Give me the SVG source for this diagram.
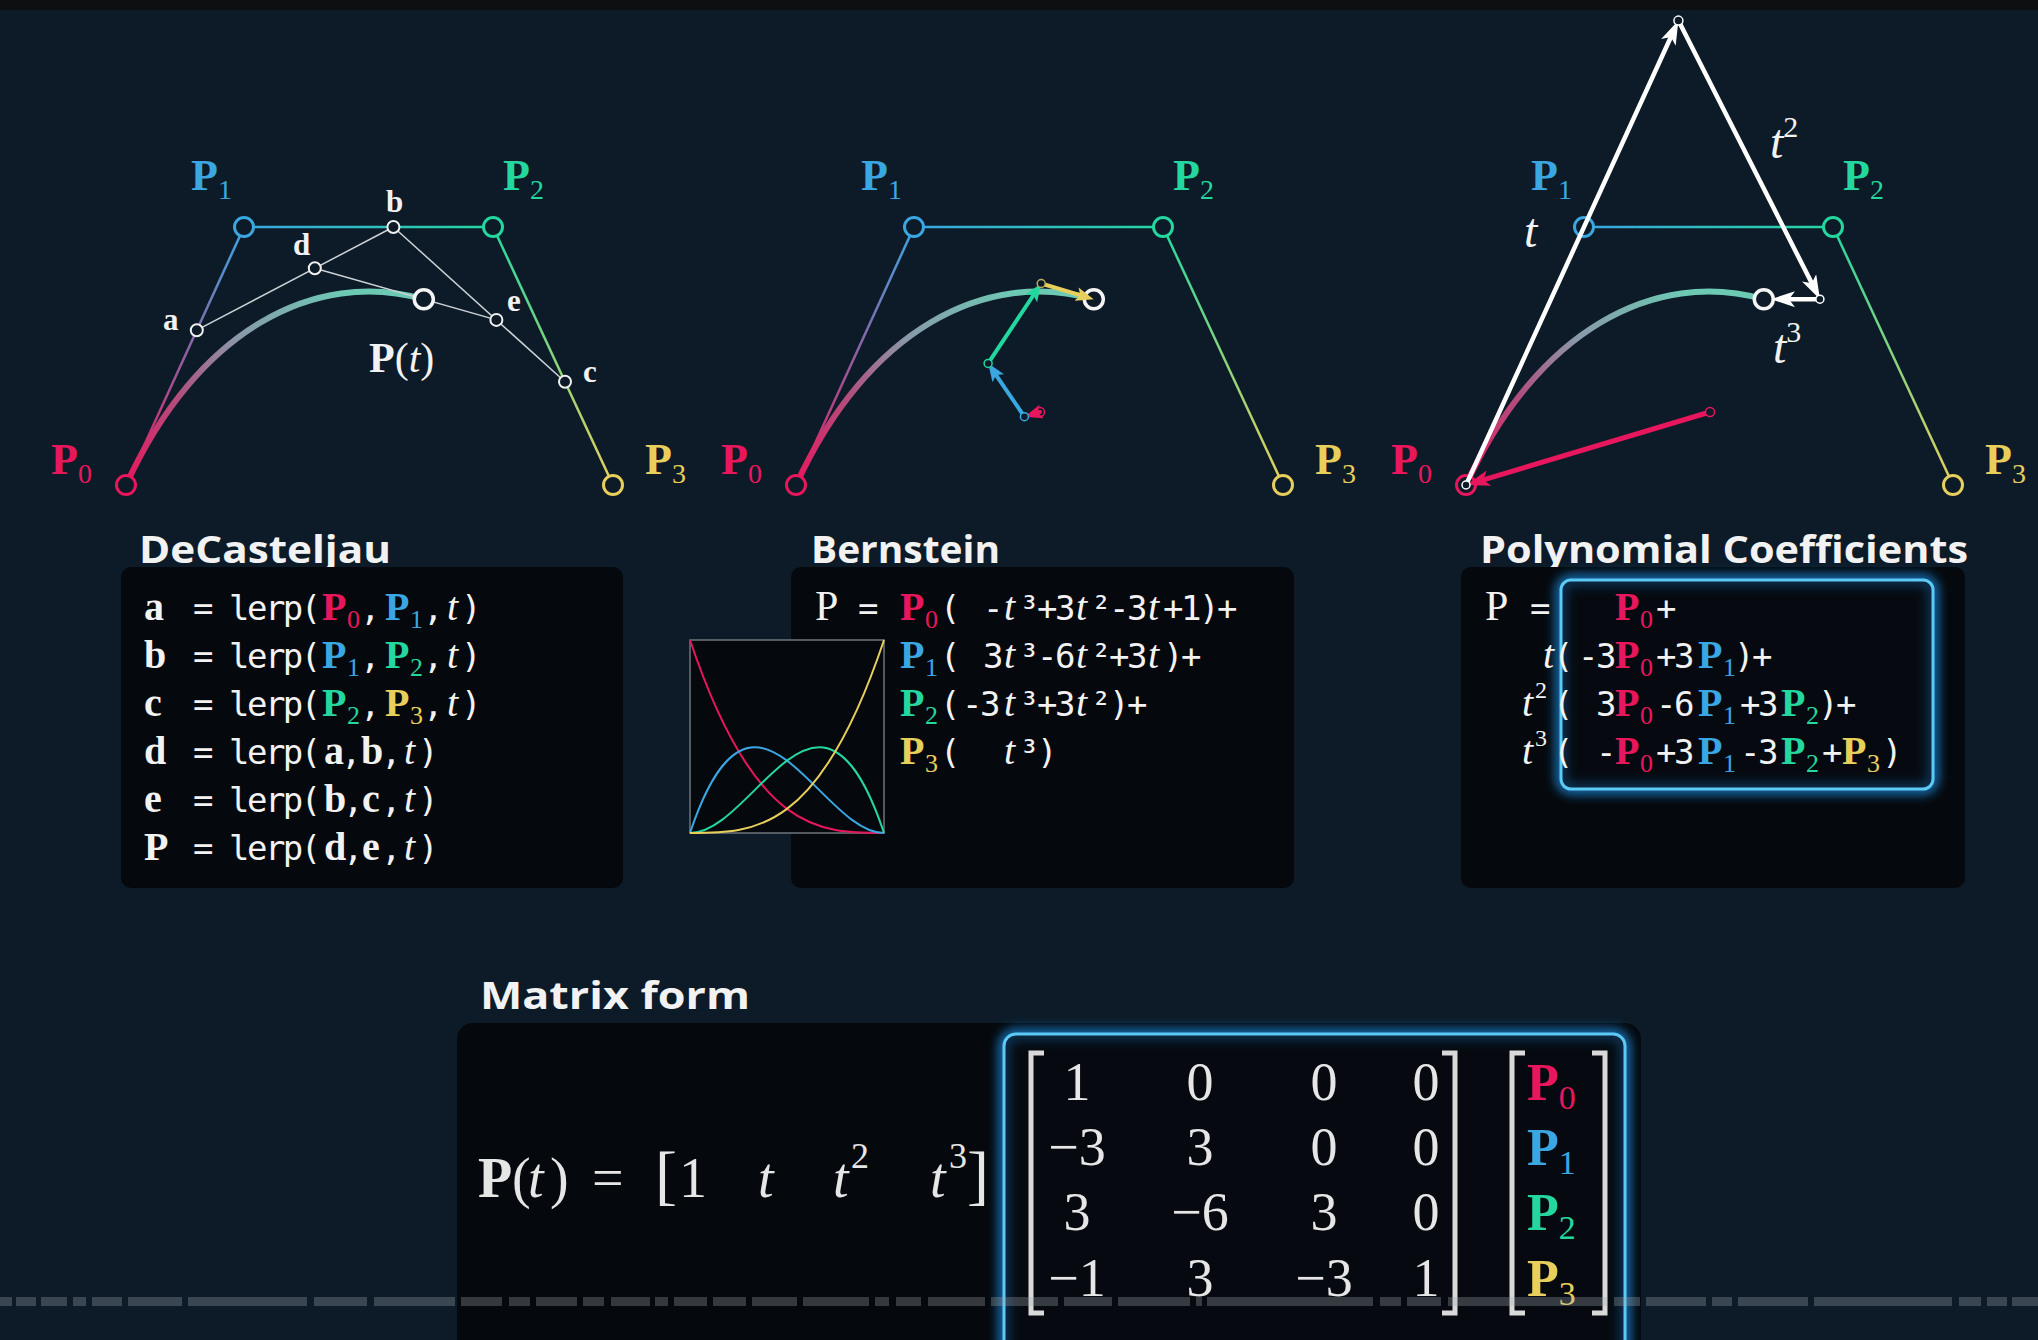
<svg xmlns="http://www.w3.org/2000/svg" width="2038" height="1340" viewBox="0 0 2038 1340">
<defs>
<style>
.title{font-family:"Open Sans","Lato",sans-serif;font-weight:700;font-size:37px;fill:#f2f2f2}
.bs{font-family:"Liberation Serif",serif;font-weight:700}
.rs{font-family:"Liberation Serif",serif;font-weight:400;font-style:normal}
.it{font-family:"Liberation Serif",serif;font-weight:400;font-style:italic}
.mono{font-family:"DejaVu Sans Mono",monospace;font-size:34px;letter-spacing:-2.5px;font-weight:400;font-style:normal}
.red{fill:#e8175d}.blue{fill:#3aa6e2}.green{fill:#24d79f}.yellow{fill:#e8cf5c}.wt{fill:#f2f2f2}
.pt{stroke-width:3;fill:#0c1b27}
.dot{fill:#0c1b27;stroke:#f0f0f0;stroke-width:2}
.cons{stroke:#cdd2d6;stroke-width:1.5;fill:none}
.curve{fill:none;stroke:url(#gc);stroke-width:6;stroke-linecap:round}
.lbl{font-size:44px}
.sub{font-size:28px}
.frm{font-size:40px}
.fsub{font-size:26px}
.glowc{fill:none;stroke:#1d8fe6;stroke-width:9;filter:url(#blur)}
.glow{fill:none;stroke:#5ccaf6;stroke-width:3}
.bar{fill:#a4abb2;opacity:0.3}
.brk{fill:none;stroke:#d9d9d9;stroke-width:5}
.mx{font-family:"Liberation Serif",serif;font-size:54px;fill:#e6e6e6;text-anchor:middle}
</style>
<linearGradient id="gc" gradientUnits="userSpaceOnUse" x1="126" y1="485" x2="330" y2="275">
<stop offset="0" stop-color="#e8175d"/><stop offset="0.35" stop-color="#b0507e"/><stop offset="0.62" stop-color="#8a98aa"/><stop offset="1" stop-color="#6ccab4"/>
</linearGradient>
<linearGradient id="g01" gradientUnits="userSpaceOnUse" x1="126" y1="485" x2="244" y2="227"><stop offset="0" stop-color="#e8175d"/><stop offset="1" stop-color="#3aa6e2"/></linearGradient>
<linearGradient id="g12" gradientUnits="userSpaceOnUse" x1="244" y1="227" x2="493" y2="227"><stop offset="0" stop-color="#3aa6e2"/><stop offset="1" stop-color="#24d79f"/></linearGradient>
<linearGradient id="g23" gradientUnits="userSpaceOnUse" x1="493" y1="227" x2="613" y2="485"><stop offset="0" stop-color="#24d79f"/><stop offset="1" stop-color="#e8cf5c"/></linearGradient>
<filter id="blur" x="-10%" y="-10%" width="120%" height="120%"><feGaussianBlur stdDeviation="6"/></filter>
<marker id="ahW" viewBox="0 0 24 16" refX="12" refY="8" markerWidth="24" markerHeight="16" markerUnits="userSpaceOnUse" orient="auto"><path d="M0,0 L24,8 L0,16 L6,8 z" fill="#ffffff"/></marker>
<marker id="ahR2" viewBox="0 0 24 16" refX="12" refY="8" markerWidth="24" markerHeight="16" markerUnits="userSpaceOnUse" orient="auto"><path d="M0,0 L24,8 L0,16 L6,8 z" fill="#e8175d"/></marker>
<marker id="ahR" viewBox="0 0 18 14" refX="9" refY="7" markerWidth="18" markerHeight="14" markerUnits="userSpaceOnUse" orient="auto"><path d="M0,0 L18,7 L0,14 L4,7 z" fill="#e8175d"/></marker>
<marker id="ahB" viewBox="0 0 18 14" refX="9" refY="7" markerWidth="18" markerHeight="14" markerUnits="userSpaceOnUse" orient="auto"><path d="M0,0 L18,7 L0,14 L4,7 z" fill="#3aa6e2"/></marker>
<marker id="ahG" viewBox="0 0 18 14" refX="9" refY="7" markerWidth="18" markerHeight="14" markerUnits="userSpaceOnUse" orient="auto"><path d="M0,0 L18,7 L0,14 L4,7 z" fill="#24d79f"/></marker>
<marker id="ahY" viewBox="0 0 18 14" refX="9" refY="7" markerWidth="18" markerHeight="14" markerUnits="userSpaceOnUse" orient="auto"><path d="M0,0 L18,7 L0,14 L4,7 z" fill="#e8cf5c"/></marker>
</defs>

<rect x="0" y="0" width="2038" height="1340" fill="#0c1b27"/>
<rect x="0" y="0" width="2038" height="10" fill="#0e0f10"/>

<!-- Left panel: De Casteljau geometry -->
<g id="panel-decasteljau">
<line x1="126" y1="485" x2="244" y2="227" stroke="url(#g01)" stroke-width="2.5"/>
<line x1="244" y1="227" x2="493" y2="227" stroke="url(#g12)" stroke-width="2.5"/>
<line x1="493" y1="227" x2="613" y2="485" stroke="url(#g23)" stroke-width="2.5"/>
<path class="curve" d="M126,485 C196.8,330.2 314.8,268.3 423.8,299.3"/>
<line class="cons" x1="196.8" y1="330.2" x2="393.4" y2="227"/>
<line class="cons" x1="393.4" y1="227" x2="565" y2="381.8"/>
<line class="cons" x1="314.8" y1="268.3" x2="496.4" y2="319.9"/>
<circle class="pt" cx="126" cy="485" r="9.5" stroke="#e8175d"/>
<circle class="pt" cx="244" cy="227" r="9.5" stroke="#3aa6e2"/>
<circle class="pt" cx="493" cy="227" r="9.5" stroke="#24d79f"/>
<circle class="pt" cx="613" cy="485" r="9.5" stroke="#e8cf5c"/>
<circle class="dot" cx="196.8" cy="330.2" r="6"/>
<circle class="dot" cx="393.4" cy="227" r="6"/>
<circle class="dot" cx="565" cy="381.8" r="6"/>
<circle class="dot" cx="314.8" cy="268.3" r="6"/>
<circle class="dot" cx="496.4" cy="319.9" r="6"/>
<circle cx="423.8" cy="299.3" r="9.5" fill="#0c1b27" stroke="#f4f4f4" stroke-width="3.5"/>
<text class="bs red lbl" x="51" y="474">P<tspan class="rs sub" dy="9">0</tspan></text>
<text class="bs blue lbl" x="191" y="190">P<tspan class="rs sub" dy="9">1</tspan></text>
<text class="bs green lbl" x="503" y="190">P<tspan class="rs sub" dy="9">2</tspan></text>
<text class="bs yellow lbl" x="645" y="474">P<tspan class="rs sub" dy="9">3</tspan></text>
<g class="bs wt" font-size="31">
<text x="163" y="330">a</text><text x="386" y="212">b</text><text x="583" y="382">c</text><text x="293" y="255">d</text><text x="507" y="311">e</text>
</g>
<text class="wt" x="369" y="372" font-size="42"><tspan class="bs">P</tspan><tspan class="rs">(</tspan><tspan class="it">t</tspan><tspan class="rs">)</tspan></text>
</g>

<!-- Middle panel: Bernstein geometry -->
<g id="panel-bernstein" transform="translate(670,0)">
<line x1="126" y1="485" x2="244" y2="227" stroke="url(#g01)" stroke-width="2.5"/>
<line x1="244" y1="227" x2="493" y2="227" stroke="url(#g12)" stroke-width="2.5"/>
<line x1="493" y1="227" x2="613" y2="485" stroke="url(#g23)" stroke-width="2.5"/>
<path class="curve" d="M126,485 C196.8,330.2 314.8,268.3 423.8,299.3"/>
<circle class="pt" cx="126" cy="485" r="9.5" stroke="#e8175d"/>
<circle class="pt" cx="244" cy="227" r="9.5" stroke="#3aa6e2"/>
<circle class="pt" cx="493" cy="227" r="9.5" stroke="#24d79f"/>
<circle class="pt" cx="613" cy="485" r="9.5" stroke="#e8cf5c"/>
<circle cx="423.8" cy="299.3" r="9.5" fill="#0c1b27" stroke="#f4f4f4" stroke-width="3.5"/>
<text class="bs red lbl" x="51" y="474">P<tspan class="rs sub" dy="9">0</tspan></text>
<text class="bs blue lbl" x="191" y="190">P<tspan class="rs sub" dy="9">1</tspan></text>
<text class="bs green lbl" x="503" y="190">P<tspan class="rs sub" dy="9">2</tspan></text>
<text class="bs yellow lbl" x="645" y="474">P<tspan class="rs sub" dy="9">3</tspan></text>
</g>

<!-- Right panel: polynomial geometry -->
<g id="panel-polynomial" transform="translate(1340,0)">
<line x1="126" y1="485" x2="244" y2="227" stroke="url(#g01)" stroke-width="2.5"/>
<line x1="244" y1="227" x2="493" y2="227" stroke="url(#g12)" stroke-width="2.5"/>
<line x1="493" y1="227" x2="613" y2="485" stroke="url(#g23)" stroke-width="2.5"/>
<path class="curve" d="M126,485 C196.8,330.2 314.8,268.3 423.8,299.3"/>
<circle class="pt" cx="126" cy="485" r="9.5" stroke="#e8175d"/>
<circle class="pt" cx="244" cy="227" r="9.5" stroke="#3aa6e2"/>
<circle class="pt" cx="493" cy="227" r="9.5" stroke="#24d79f"/>
<circle class="pt" cx="613" cy="485" r="9.5" stroke="#e8cf5c"/>
<circle cx="423.8" cy="299.3" r="9.5" fill="#0c1b27" stroke="#f4f4f4" stroke-width="3.5"/>
<text class="bs red lbl" x="51" y="474">P<tspan class="rs sub" dy="9">0</tspan></text>
<text class="bs blue lbl" x="191" y="190">P<tspan class="rs sub" dy="9">1</tspan></text>
<text class="bs green lbl" x="503" y="190">P<tspan class="rs sub" dy="9">2</tspan></text>
<text class="bs yellow lbl" x="645" y="474">P<tspan class="rs sub" dy="9">3</tspan></text>
</g>

<!-- Connectors / vectors -->
<g id="connectors">
<g id="bernstein-vectors" stroke-width="4" stroke-linecap="round">
<line x1="1040" y1="412" x2="1033" y2="414.1" stroke="#e8175d" marker-end="url(#ahR)"/>
<line x1="1024.4" y1="416.7" x2="993.2" y2="370.8" stroke="#3aa6e2" marker-end="url(#ahB)"/>
<line x1="988.1" y1="363.4" x2="1036.2" y2="291" stroke="#24d79f" marker-end="url(#ahG)"/>
<line x1="1041.2" y1="283.5" x2="1085.1" y2="296.7" stroke="#e8cf5c" marker-end="url(#ahY)"/>
<circle cx="1040" cy="412" r="4.5" fill="none" stroke="#e8175d" stroke-width="1.5"/>
<circle cx="1024.4" cy="416.7" r="4" fill="#0c1b27" stroke="#3aa6e2" stroke-width="1.5"/>
<circle cx="988.1" cy="363.4" r="4" fill="#0c1b27" stroke="#24d79f" stroke-width="1.5"/>
<circle cx="1041.2" cy="283.5" r="4" fill="#0c1b27" stroke="#b8b060" stroke-width="1.5"/>
</g>
<g id="polynomial-vectors" stroke-linecap="round">
<line x1="1710" y1="412" x2="1477.5" y2="481.6" stroke="#e8175d" stroke-width="5" marker-end="url(#ahR2)"/>
<line x1="1466" y1="485" x2="1673.4" y2="31.5" stroke="#ffffff" stroke-width="4.5" marker-end="url(#ahW)"/>
<line x1="1678.4" y1="20.6" x2="1814.5" y2="288.5" stroke="#ffffff" stroke-width="4.5" marker-end="url(#ahW)"/>
<line x1="1819.9" y1="299.2" x2="1783" y2="299.2" stroke="#ffffff" stroke-width="4.5" marker-end="url(#ahW)"/>
<circle cx="1710" cy="412" r="4.5" fill="#0c1b27" stroke="#e8175d" stroke-width="1.5"/>
<circle cx="1466" cy="485" r="4" fill="#0c1b27" stroke="#ffffff" stroke-width="1.5"/>
<circle cx="1678.4" cy="20.6" r="4.5" fill="#0c1b27" stroke="#ffffff" stroke-width="1.5"/>
<circle cx="1819.9" cy="299.2" r="4" fill="#0c1b27" stroke="#ffffff" stroke-width="1.5"/>
</g>
</g>
<g id="poly-labels" class="wt" font-size="48">
<text class="it" x="1524" y="247">t</text>
<text x="1770" y="158"><tspan class="it">t</tspan><tspan class="rs" font-size="30" dy="-21">2</tspan></text>
<text x="1773" y="363"><tspan class="it">t</tspan><tspan class="rs" font-size="30" dy="-21">3</tspan></text>
</g>

<!-- Titles -->
<text id="title-decasteljau" class="title" x="139" y="563" textLength="252" lengthAdjust="spacingAndGlyphs">DeCasteljau</text>
<text id="title-bernstein" class="title" x="811" y="563" textLength="189" lengthAdjust="spacingAndGlyphs">Bernstein</text>
<text id="title-polynomial" class="title" x="1480" y="563" textLength="488" lengthAdjust="spacingAndGlyphs">Polynomial Coefficients</text>
<text id="title-matrix" class="title" x="480" y="1009" textLength="270" lengthAdjust="spacingAndGlyphs">Matrix form</text>

<!-- DeCasteljau formula box -->
<g id="box-decasteljau" class="wt">
<rect x="121" y="567" width="502" height="321" rx="10" fill="#05080c"/>
<text y="620"><tspan x="144" class="bs frm">a</tspan><tspan x="193" class="mono">= lerp(</tspan><tspan x="322" class="bs red frm">P</tspan><tspan x="347" y="628" class="rs red fsub">0</tspan><tspan x="360" y="620" class="mono">,</tspan><tspan x="385" class="bs blue frm">P</tspan><tspan x="410" y="628" class="rs blue fsub">1</tspan><tspan x="423" y="620" class="mono">,</tspan><tspan x="447" class="it frm">t</tspan><tspan x="461" class="mono">)</tspan></text>
<text y="668"><tspan x="144" class="bs frm">b</tspan><tspan x="193" class="mono">= lerp(</tspan><tspan x="322" class="bs blue frm">P</tspan><tspan x="347" y="676" class="rs blue fsub">1</tspan><tspan x="360" y="668" class="mono">,</tspan><tspan x="385" class="bs green frm">P</tspan><tspan x="410" y="676" class="rs green fsub">2</tspan><tspan x="423" y="668" class="mono">,</tspan><tspan x="447" class="it frm">t</tspan><tspan x="461" class="mono">)</tspan></text>
<text y="716"><tspan x="144" class="bs frm">c</tspan><tspan x="193" class="mono">= lerp(</tspan><tspan x="322" class="bs green frm">P</tspan><tspan x="347" y="724" class="rs green fsub">2</tspan><tspan x="360" y="716" class="mono">,</tspan><tspan x="385" class="bs yellow frm">P</tspan><tspan x="410" y="724" class="rs yellow fsub">3</tspan><tspan x="423" y="716" class="mono">,</tspan><tspan x="447" class="it frm">t</tspan><tspan x="461" class="mono">)</tspan></text>
<text y="764"><tspan x="144" class="bs frm">d</tspan><tspan x="193" class="mono">= lerp(</tspan><tspan x="324" class="bs frm">a</tspan><tspan x="341" class="mono">,</tspan><tspan x="361" class="bs frm">b</tspan><tspan x="381" class="mono">,</tspan><tspan x="404" class="it frm">t</tspan><tspan x="418" class="mono">)</tspan></text>
<text y="812"><tspan x="144" class="bs frm">e</tspan><tspan x="193" class="mono">= lerp(</tspan><tspan x="324" class="bs frm">b</tspan><tspan x="343" class="mono">,</tspan><tspan x="362" class="bs frm">c</tspan><tspan x="381" class="mono">,</tspan><tspan x="404" class="it frm">t</tspan><tspan x="418" class="mono">)</tspan></text>
<text y="860"><tspan x="144" class="bs frm">P</tspan><tspan x="193" class="mono">= lerp(</tspan><tspan x="324" class="bs frm">d</tspan><tspan x="343" class="mono">,</tspan><tspan x="362" class="bs frm">e</tspan><tspan x="381" class="mono">,</tspan><tspan x="404" class="it frm">t</tspan><tspan x="418" class="mono">)</tspan></text>
</g>

<!-- Bernstein formula box -->
<g id="box-bernstein" class="wt">
<rect x="791" y="567" width="503" height="321" rx="10" fill="#05080c"/>
<text y="620"><tspan x="815" class="rs" font-size="42">P</tspan><tspan x="858" class="mono">=</tspan><tspan x="900" class="bs red frm">P</tspan><tspan x="925" y="628" class="rs red fsub">0</tspan><tspan x="940" y="620" class="mono">(</tspan><tspan x="965" class="mono"> -</tspan><tspan x="1004" class="it frm">t</tspan><tspan x="1019" class="mono">³+3</tspan><tspan x="1076" class="it frm">t</tspan><tspan x="1091" class="mono">²-3</tspan><tspan x="1148" class="it frm">t</tspan><tspan x="1163" class="mono">+1)+</tspan></text>
<text y="668"><tspan x="900" class="bs blue frm">P</tspan><tspan x="925" y="676" class="rs blue fsub">1</tspan><tspan x="940" y="668" class="mono">(</tspan><tspan x="965" class="mono"> 3</tspan><tspan x="1004" class="it frm">t</tspan><tspan x="1019" class="mono">³-6</tspan><tspan x="1076" class="it frm">t</tspan><tspan x="1091" class="mono">²+3</tspan><tspan x="1148" class="it frm">t</tspan><tspan x="1163" class="mono">)+</tspan></text>
<text y="716"><tspan x="900" class="bs green frm">P</tspan><tspan x="925" y="724" class="rs green fsub">2</tspan><tspan x="940" y="716" class="mono">(</tspan><tspan x="962" class="mono">-3</tspan><tspan x="1004" class="it frm">t</tspan><tspan x="1019" class="mono">³+3</tspan><tspan x="1076" class="it frm">t</tspan><tspan x="1091" class="mono">²)+</tspan></text>
<text y="764"><tspan x="900" class="bs yellow frm">P</tspan><tspan x="925" y="772" class="rs yellow fsub">3</tspan><tspan x="940" y="764" class="mono">(</tspan><tspan x="1004" class="it frm">t</tspan><tspan x="1019" class="mono">³)</tspan></text>
</g>

<!-- Bernstein basis graph -->
<g id="bernstein-graph" fill="none" stroke-width="2">
<rect x="690" y="640" width="194" height="193" fill="#05080c" stroke="#6f757b" stroke-width="1.5"/>
<path d="M690,640 C754.7,833 819.3,833 884,833" stroke="#e8175d"/>
<path d="M690,833 C754.7,640 819.3,833 884,833" stroke="#3aa6e2"/>
<path d="M690,833 C754.7,833 819.3,640 884,833" stroke="#24d79f"/>
<path d="M690,833 C754.7,833 819.3,833 884,640" stroke="#e8cf5c"/>
</g>

<!-- Polynomial coefficient box -->
<g id="box-polynomial" class="wt">
<rect x="1461" y="567" width="504" height="321" rx="10" fill="#05080c"/>
<rect class="glowc" x="1561" y="580" width="372" height="209" rx="10"/>
<rect x="1561" y="580" width="372" height="209" rx="10" fill="#060c14" opacity="0.6"/>
<rect class="glow" x="1561" y="580" width="372" height="209" rx="10"/>
<text y="620"><tspan x="1485" class="rs" font-size="42">P</tspan><tspan x="1530" class="mono">=</tspan><tspan x="1615" class="bs red frm">P</tspan><tspan x="1640" y="628" class="rs red fsub">0</tspan><tspan x="1656" y="620" class="mono">+</tspan></text>
<text y="668"><tspan x="1543" class="it frm">t</tspan><tspan x="1553" class="mono">(</tspan><tspan x="1578" class="mono">-3</tspan><tspan x="1615" class="bs red frm">P</tspan><tspan x="1640" y="676" class="rs red fsub">0</tspan><tspan x="1656" y="668" class="mono">+3</tspan><tspan x="1698" class="bs blue frm">P</tspan><tspan x="1723" y="676" class="rs blue fsub">1</tspan><tspan x="1734" y="668" class="mono">)+</tspan></text>
<text y="716"><tspan x="1522" class="it frm">t</tspan><tspan x="1535" y="698" class="rs" font-size="24">2</tspan><tspan x="1553" y="716" class="mono">(</tspan><tspan x="1578" class="mono"> 3</tspan><tspan x="1615" class="bs red frm">P</tspan><tspan x="1640" y="724" class="rs red fsub">0</tspan><tspan x="1656" y="716" class="mono">-6</tspan><tspan x="1698" class="bs blue frm">P</tspan><tspan x="1723" y="724" class="rs blue fsub">1</tspan><tspan x="1740" y="716" class="mono">+3</tspan><tspan x="1781" class="bs green frm">P</tspan><tspan x="1806" y="724" class="rs green fsub">2</tspan><tspan x="1818" y="716" class="mono">)+</tspan></text>
<text y="764"><tspan x="1522" class="it frm">t</tspan><tspan x="1535" y="746" class="rs" font-size="24">3</tspan><tspan x="1553" y="764" class="mono">(</tspan><tspan x="1578" class="mono"> -</tspan><tspan x="1615" class="bs red frm">P</tspan><tspan x="1640" y="772" class="rs red fsub">0</tspan><tspan x="1656" y="764" class="mono">+3</tspan><tspan x="1698" class="bs blue frm">P</tspan><tspan x="1723" y="772" class="rs blue fsub">1</tspan><tspan x="1740" y="764" class="mono">-3</tspan><tspan x="1781" class="bs green frm">P</tspan><tspan x="1806" y="772" class="rs green fsub">2</tspan><tspan x="1822" y="764" class="mono">+</tspan><tspan x="1842" class="bs yellow frm">P</tspan><tspan x="1867" y="772" class="rs yellow fsub">3</tspan><tspan x="1882" y="764" class="mono">)</tspan></text>
</g>

<!-- Matrix form -->
<g id="box-matrix">
<rect x="457" y="1023" width="1184" height="340" rx="16" fill="#05080c"/>
<text y="1197" fill="#e6e6e6" font-size="56"><tspan x="478" class="bs">P</tspan><tspan x="512" class="rs">(</tspan><tspan x="528" class="it">t</tspan><tspan x="550" class="rs">)</tspan><tspan x="592" class="rs">=</tspan><tspan x="655" class="rs" font-size="66">[</tspan><tspan x="679" class="rs">1</tspan><tspan x="758" class="it">t</tspan><tspan x="833" class="it">t</tspan><tspan x="851" y="1168" class="rs" font-size="36">2</tspan><tspan x="930" y="1197" class="it">t</tspan><tspan x="949" y="1168" class="rs" font-size="36">3</tspan><tspan x="967" y="1197" class="rs" font-size="66">]</tspan></text>
<rect class="glowc" x="1004" y="1034" width="621" height="330" rx="12"/>
<rect x="1004" y="1034" width="621" height="330" rx="12" fill="#060c14" opacity="0.6"/>
<rect class="glow" x="1004" y="1034" width="621" height="330" rx="12"/>
<path class="brk" d="M1044,1053 H1031 V1313 H1044"/>
<path class="brk" d="M1442,1053 H1455 V1313 H1442"/>
<path class="brk" d="M1525,1053 H1512 V1313 H1525"/>
<path class="brk" d="M1592,1053 H1605 V1313 H1592"/>
<text class="mx" x="1077" y="1100">1</text><text class="mx" x="1200" y="1100">0</text><text class="mx" x="1324" y="1100">0</text><text class="mx" x="1426" y="1100">0</text>
<text class="mx" x="1077" y="1165">−3</text><text class="mx" x="1200" y="1165">3</text><text class="mx" x="1324" y="1165">0</text><text class="mx" x="1426" y="1165">0</text>
<text class="mx" x="1077" y="1230">3</text><text class="mx" x="1200" y="1230">−6</text><text class="mx" x="1324" y="1230">3</text><text class="mx" x="1426" y="1230">0</text>
<text class="mx" x="1077" y="1296">−1</text><text class="mx" x="1200" y="1296">3</text><text class="mx" x="1324" y="1296">−3</text><text class="mx" x="1426" y="1296">1</text>
<text class="bs red" x="1527" y="1100" font-size="52">P<tspan class="rs" font-size="34" dy="9">0</tspan></text>
<text class="bs blue" x="1527" y="1165" font-size="52">P<tspan class="rs" font-size="34" dy="9">1</tspan></text>
<text class="bs green" x="1527" y="1230" font-size="52">P<tspan class="rs" font-size="34" dy="9">2</tspan></text>
<text class="bs yellow" x="1527" y="1296" font-size="52">P<tspan class="rs" font-size="34" dy="9">3</tspan></text>
</g>

<!-- progress bar overlay -->
<g id="progress-bar">
<rect class="bar" x="0" y="1297" width="12" height="9"/>
<rect class="bar" x="16" y="1297" width="20" height="9"/>
<rect class="bar" x="41" y="1297" width="26" height="9"/>
<rect class="bar" x="73" y="1297" width="13" height="9"/>
<rect class="bar" x="92" y="1297" width="30" height="9"/>
<rect class="bar" x="128" y="1297" width="54" height="9"/>
<rect class="bar" x="188" y="1297" width="119" height="9"/>
<rect class="bar" x="314" y="1297" width="53" height="9"/>
<rect class="bar" x="374" y="1297" width="81" height="9"/>
<rect class="bar" x="461" y="1297" width="41" height="9"/>
<rect class="bar" x="509" y="1297" width="21" height="9"/>
<rect class="bar" x="536" y="1297" width="41" height="9"/>
<rect class="bar" x="583" y="1297" width="21" height="9"/>
<rect class="bar" x="611" y="1297" width="39" height="9"/>
<rect class="bar" x="655" y="1297" width="13" height="9"/>
<rect class="bar" x="674" y="1297" width="33" height="9"/>
<rect class="bar" x="713" y="1297" width="33" height="9"/>
<rect class="bar" x="752" y="1297" width="45" height="9"/>
<rect class="bar" x="803" y="1297" width="66" height="9"/>
<rect class="bar" x="875" y="1297" width="14" height="9"/>
<rect class="bar" x="896" y="1297" width="25" height="9"/>
<rect class="bar" x="928" y="1297" width="57" height="9"/>
<rect class="bar" x="991" y="1297" width="67" height="9"/>
<rect class="bar" x="1064" y="1297" width="48" height="9"/>
<rect class="bar" x="1118" y="1297" width="72" height="9"/>
<rect class="bar" x="1196" y="1297" width="6" height="9"/>
<rect class="bar" x="1207" y="1297" width="166" height="9"/>
<rect class="bar" x="1380" y="1297" width="21" height="9"/>
<rect class="bar" x="1407" y="1297" width="34" height="9"/>
<rect class="bar" x="1448" y="1297" width="159" height="9"/>
<rect class="bar" x="1614" y="1297" width="26" height="9"/>
<rect class="bar" x="1646" y="1297" width="60" height="9"/>
<rect class="bar" x="1712" y="1297" width="20" height="9"/>
<rect class="bar" x="1738" y="1297" width="70" height="9"/>
<rect class="bar" x="1814" y="1297" width="138" height="9"/>
<rect class="bar" x="1959" y="1297" width="22" height="9"/>
<rect class="bar" x="1987" y="1297" width="20" height="9"/>
<rect class="bar" x="2012" y="1297" width="26" height="9"/>
</g>
</svg>
